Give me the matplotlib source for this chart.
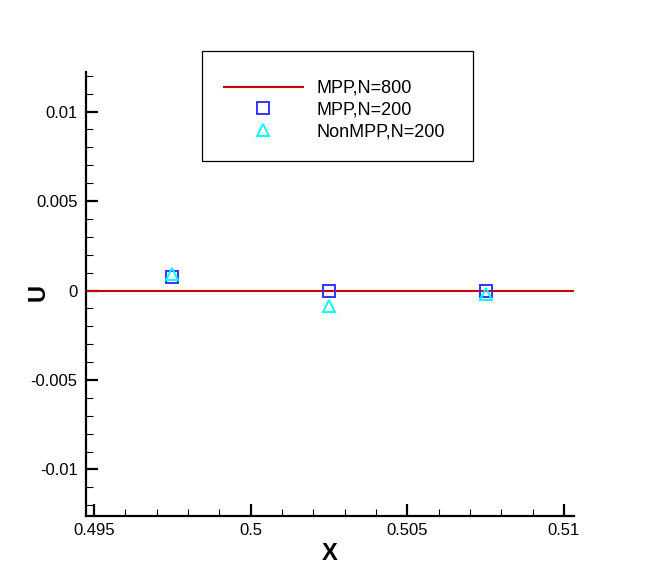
import matplotlib
matplotlib.use("Agg")
import matplotlib.pyplot as plt
from matplotlib.ticker import MultipleLocator, FixedLocator, FixedFormatter
from matplotlib.patches import Rectangle

# ---- data ----
x_ref = [0.494375, 0.495625, 0.496875, 0.498125, 0.499375, 0.500625, 0.501875,
         0.503125, 0.504375, 0.505625, 0.506875, 0.508125, 0.509375, 0.510625]
u_ref = [0.0, 0.0, 0.0, 0.0, 0.0, 0.0, 0.0, 0.0, 0.0, 0.0, 0.0, 0.0, 0.0, 0.0]

x_200 = [0.4975, 0.5025, 0.5075]
u_mpp_200 = [0.00077, 0.0, 0.0]
u_nonmpp_200 = [0.00092, -0.00087, -0.00017]

labels = ["MPP,N=800", "MPP,N=200", "NonMPP,N=200"]

xticks = [0.495, 0.5, 0.505, 0.51]
xticklabels = ["0.495", "0.5", "0.505", "0.51"]
yticks = [-0.01, -0.005, 0.0, 0.005, 0.01]
yticklabels = ["-0.01", "-0.005", "0", "0.005", "0.01"]

plt.rcParams['font.family'] = ['Liberation Sans', 'DejaVu Sans']

W, H = 654, 581
fig = plt.figure(figsize=(W / 100, H / 100), dpi=100)
L, R, T, B = 86, 574, 72, 516
ax = fig.add_axes([L / W, 1 - B / H, (R - L) / W, (B - T) / H])

ax.set_xlim(0.49474, 0.51032)
ax.set_ylim(-0.0126, 0.01221)

l1, = ax.plot(x_ref, u_ref, color='#CC0000', lw=1.5, zorder=2)
l2, = ax.plot(x_200, u_mpp_200, ls='none', marker='s', ms=8.5, mfc='none',
              mec='#3333FF', mew=1.4, zorder=3)
l3, = ax.plot(x_200, u_nonmpp_200, ls='none', marker='^', ms=8.5, mfc='none',
              mec='#00FFFF', mew=1.4, zorder=4)

for s in ['top', 'right']:
    ax.spines[s].set_visible(False)
for s in ['left', 'bottom']:
    ax.spines[s].set_linewidth(1.6)
    ax.spines[s].set_color('black')
    ax.spines[s].set_zorder(5)

ax.xaxis.set_major_locator(FixedLocator(xticks))
ax.xaxis.set_major_formatter(FixedFormatter(xticklabels))
ax.yaxis.set_major_locator(FixedLocator(yticks))
ax.yaxis.set_major_formatter(FixedFormatter(yticklabels))
ax.xaxis.set_minor_locator(MultipleLocator(0.001))
ax.yaxis.set_minor_locator(MultipleLocator(0.001))

ax.tick_params(which='major', direction='in', length=8.6, width=1.6,
               labelsize=12, pad=6)
ax.tick_params(which='minor', direction='in', length=4.8, width=0.8)
ax.tick_params(axis='x', which='major', pad=5)

ax.set_xlabel('X', fontsize=17, fontweight='bold', va='center', ha='center')
ax.set_ylabel('U', fontsize=17, fontweight='bold', va='center', ha='center')
ax.xaxis.set_label_coords((330 - L) / (R - L), (B - 553) / (B - T))
ax.yaxis.set_label_coords((38 - L) / (R - L), (B - 292) / (B - T))

# legend box
fig.patches.append(Rectangle((202 / W, 1 - 161 / H), (473 - 202) / W, (161 - 51) / H,
                             transform=fig.transFigure, facecolor='white',
                             edgecolor='black', lw=0.9, zorder=10))
leg = fig.legend([l1, l2, l3], labels, loc='center left',
                 bbox_to_anchor=(224 / W, 1 - 110 / H), frameon=False,
                 fontsize=13, handlelength=4.37, handletextpad=0.78,
                 labelspacing=0.25, borderpad=0, borderaxespad=0, numpoints=1)
leg.set_zorder(11)

fig.savefig('out.png', dpi=100)
